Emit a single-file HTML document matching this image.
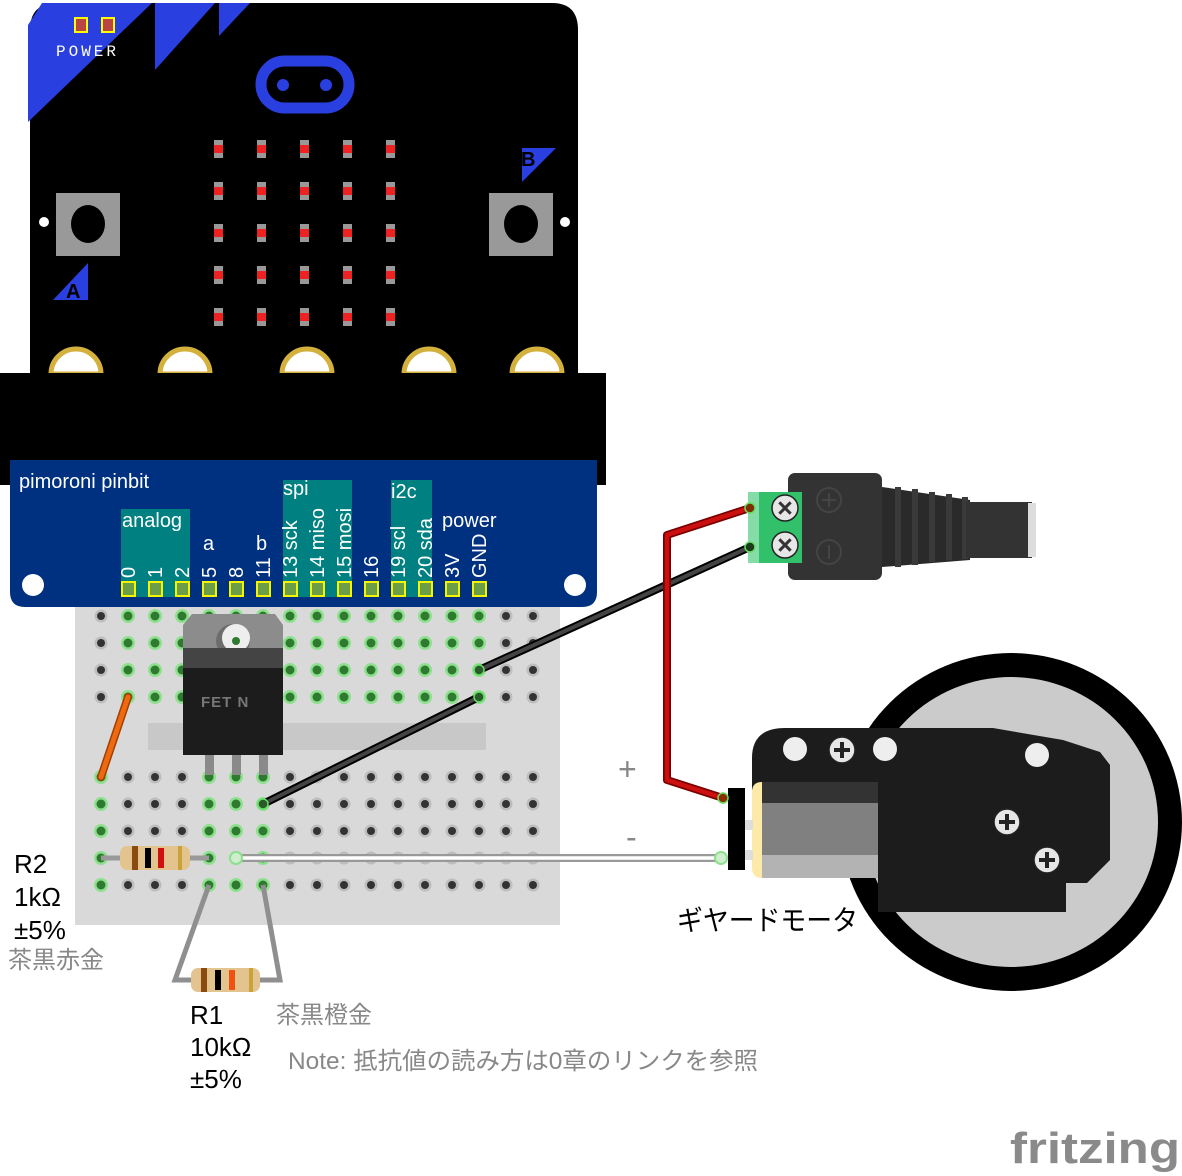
<!DOCTYPE html>
<html><head><meta charset="utf-8"><style>
html,body{margin:0;padding:0;background:#fff;}
svg{display:block;font-family:"Liberation Sans","Noto Sans CJK JP",sans-serif;}
</style></head><body>
<svg width="1182" height="1176" viewBox="0 0 1182 1176" xmlns="http://www.w3.org/2000/svg">
<defs>
 <g id="d"><circle r="6.5" fill="#bdbdbd"/><circle r="4" fill="#333"/></g>
 <g id="g"><circle r="7" fill="#8ee08e"/><circle r="4.5" fill="#2e7a2e"/></g>
 <g id="led"><rect x="-4" y="-9" width="9" height="18" fill="#999"/><rect x="-4" y="-4" width="9" height="8" fill="#e22"/></g>
 <g id="top">
  <use href="#d" x="101"/><use href="#g" x="128"/><use href="#g" x="155"/><use href="#g" x="182"/><use href="#g" x="209"/><use href="#g" x="236"/><use href="#g" x="263"/><use href="#g" x="290"/><use href="#g" x="317"/><use href="#g" x="344"/><use href="#g" x="371"/><use href="#g" x="398"/><use href="#g" x="425"/><use href="#g" x="452"/><use href="#g" x="479"/><use href="#d" x="506"/><use href="#d" x="533"/>
 </g>
 <g id="bot">
  <use href="#g" x="101"/><use href="#d" x="128"/><use href="#d" x="155"/><use href="#d" x="182"/><use href="#g" x="209"/><use href="#g" x="236"/><use href="#g" x="263"/><use href="#d" x="290"/><use href="#d" x="317"/><use href="#d" x="344"/><use href="#d" x="371"/><use href="#d" x="398"/><use href="#d" x="425"/><use href="#d" x="452"/><use href="#d" x="479"/><use href="#d" x="506"/><use href="#d" x="533"/>
 </g>
 <g id="lrow"><use href="#led" x="218"/><use href="#led" x="261"/><use href="#led" x="304"/><use href="#led" x="347"/><use href="#led" x="390"/></g>
 <g id="pad"><path d="M-25,0 A25,25 0 0 1 25,0 Z" fill="#fff" stroke="#d4b03c" stroke-width="5"/></g>
 <g id="plus"><circle r="13" fill="#e6e6e6" stroke="#222" stroke-width="1.5"/><path d="M-8,0H8M0,-8V8" stroke="#222" stroke-width="4"/></g>
</defs>

<!-- micro:bit -->
<path d="M30,375 V30 Q30,3 57,3 H552 Q578,3 578,30 V375 Z" fill="#000"/>
<polygon points="28,122 28,25 42,3 152,3" fill="#2a3fe0"/>
<polygon points="155,3 215,3 155,70" fill="#2a3fe0"/>
<polygon points="219,3 250,3 219,36" fill="#2a3fe0"/>
<rect x="75" y="18" width="12" height="14" fill="#b44" stroke="#ff0" stroke-width="2"/>
<rect x="102" y="18" width="12" height="14" fill="#b44" stroke="#ff0" stroke-width="2"/>
<text x="56" y="56" fill="#fff" font-size="16" font-family="Liberation Mono,monospace" textLength="60">POWER</text>
<rect x="261" y="61" width="88" height="47" rx="23.5" fill="none" stroke="#2a3fe0" stroke-width="11"/>
<circle cx="283" cy="85" r="6" fill="#2a3fe0"/><circle cx="326" cy="85" r="6" fill="#2a3fe0"/>
<use href="#lrow" y="149"/><use href="#lrow" y="191"/><use href="#lrow" y="233"/><use href="#lrow" y="275"/><use href="#lrow" y="317"/>
<rect x="56" y="193" width="64" height="63" fill="#999"/><ellipse cx="88" cy="224" rx="17" ry="19" fill="#000"/>
<rect x="489" y="193" width="64" height="63" fill="#999"/><ellipse cx="521" cy="224" rx="17" ry="19" fill="#000"/>
<circle cx="44" cy="222" r="5" fill="#fff"/><circle cx="565" cy="222" r="5" fill="#fff"/>
<polygon points="53,300 88,263 88,300" fill="#2a3fe0"/><text x="66" y="298" font-size="20" font-weight="bold" fill="#000">A</text>
<polygon points="522,148 556,148 522,182" fill="#2a3fe0"/><text x="521" y="166" font-size="20" font-weight="bold" fill="#000">B</text>
<use href="#pad" x="76" y="374"/><use href="#pad" x="185" y="374"/><use href="#pad" x="307" y="374"/><use href="#pad" x="429" y="374"/><use href="#pad" x="537" y="374"/>
<rect x="0" y="373" width="606" height="112" fill="#000"/>

<!-- breadboard -->
<rect x="75" y="600" width="485" height="325" fill="#d9d9d9"/>
<rect x="148" y="723" width="338" height="27" fill="#c8c8c8"/>
<use href="#top" y="616"/><use href="#top" y="643"/><use href="#top" y="670"/><use href="#top" y="697"/>
<use href="#bot" y="777"/><use href="#bot" y="804"/><use href="#bot" y="831"/><use href="#bot" y="858"/><use href="#bot" y="885"/>

<!-- pinbit -->
<path d="M10,460 H597 V592 Q597,607 582,607 H25 Q10,607 10,592 Z" fill="#003080"/>
<text x="19" y="488" fill="#fff" font-size="20">pimoroni pinbit</text>
<rect x="121" y="509" width="69" height="88" fill="#008080"/>
<rect x="283" y="480" width="69" height="117" fill="#008080"/>
<rect x="391" y="480" width="41" height="117" fill="#008080"/>
<text x="122" y="527" fill="#fff" font-size="20">analog</text>
<text x="203" y="550" fill="#fff" font-size="20">a</text>
<text x="256" y="550" fill="#fff" font-size="20">b</text>
<text x="283" y="495" fill="#fff" font-size="20">spi</text>
<text x="391" y="498" fill="#fff" font-size="20">i2c</text>
<text x="442" y="527" fill="#fff" font-size="20">power</text>
<g fill="#fff" font-size="20">
<text transform="translate(135,578) rotate(-90)">0</text>
<text transform="translate(162,578) rotate(-90)">1</text>
<text transform="translate(189,578) rotate(-90)">2</text>
<text transform="translate(216,578) rotate(-90)">5</text>
<text transform="translate(243,578) rotate(-90)">8</text>
<text transform="translate(270,578) rotate(-90)">11</text>
<text transform="translate(297,578) rotate(-90)">13 sck</text>
<text transform="translate(324,578) rotate(-90)">14 miso</text>
<text transform="translate(351,578) rotate(-90)">15 mosi</text>
<text transform="translate(378,578) rotate(-90)">16</text>
<text transform="translate(405,578) rotate(-90)">19 scl</text>
<text transform="translate(432,578) rotate(-90)">20 sda</text>
<text transform="translate(459,578) rotate(-90)">3V</text>
<text transform="translate(486,578) rotate(-90)">GND</text>
</g>
<g fill="#6b9e47" stroke="#f5f500" stroke-width="2">
<rect x="122" y="582" width="13" height="14"/><rect x="149" y="582" width="13" height="14"/><rect x="176" y="582" width="13" height="14"/><rect x="203" y="582" width="13" height="14"/><rect x="230" y="582" width="13" height="14"/><rect x="257" y="582" width="13" height="14"/><rect x="284" y="582" width="13" height="14"/><rect x="311" y="582" width="13" height="14"/><rect x="338" y="582" width="13" height="14"/><rect x="365" y="582" width="13" height="14"/><rect x="392" y="582" width="13" height="14"/><rect x="419" y="582" width="13" height="14"/><rect x="446" y="582" width="13" height="14"/><rect x="473" y="582" width="13" height="14"/>
</g>
<circle cx="33" cy="585" r="11" fill="#fff"/><circle cx="575" cy="585" r="11" fill="#fff"/>

<!-- FET -->
<g fill="#8a8a8a"><rect x="205" y="750" width="9" height="25"/><rect x="232" y="750" width="9" height="25"/><rect x="259" y="750" width="9" height="25"/></g>
<path d="M183,625 L192,614 H275 L283,625 V660 H183 Z" fill="#8c8c8c"/>
<circle cx="233" cy="641" r="17" fill="#6d6d6d"/><circle cx="236" cy="638" r="14" fill="#eee"/><circle cx="236" cy="641" r="4" fill="#2e7a2e"/>
<rect x="183" y="648" width="100" height="20" fill="#444"/>
<rect x="183" y="668" width="100" height="87" fill="#1c1c1c"/>
<text x="201" y="707" fill="#777" font-size="15" font-weight="bold" letter-spacing="1">FET N</text>

<!-- orange wire -->
<line x1="128" y1="697" x2="101" y2="777" stroke="#a33e00" stroke-width="8" stroke-linecap="round"/>
<line x1="128" y1="697" x2="101" y2="777" stroke="#ee6a10" stroke-width="5" stroke-linecap="round"/>

<!-- R2 -->
<line x1="101" y1="858" x2="209" y2="858" stroke="#999" stroke-width="5"/>
<rect x="120" y="846" width="70" height="24" rx="7" fill="#e3c48f"/>
<rect x="132" y="846" width="6" height="24" fill="#8a4a10"/><rect x="145" y="848" width="6" height="20" fill="#000"/><rect x="158" y="848" width="6" height="20" fill="#d01010"/><rect x="178" y="846" width="4" height="24" fill="#c9a23a"/>

<!-- R1 -->
<polyline points="209,885 175,980 195,980" fill="none" stroke="#8f8f8f" stroke-width="5"/>
<polyline points="263,885 280,980 258,980" fill="none" stroke="#8f8f8f" stroke-width="5"/>
<rect x="191" y="968" width="69" height="24" rx="7" fill="#e3c48f"/>
<rect x="201" y="968" width="6" height="24" fill="#8a4a10"/><rect x="215" y="970" width="6" height="20" fill="#000"/><rect x="229" y="970" width="6" height="20" fill="#f05010"/><rect x="249" y="968" width="4" height="24" fill="#c9a23a"/>

<!-- wires -->
<line x1="236" y1="858" x2="723" y2="858" stroke="#999" stroke-width="8"/>
<line x1="236" y1="858" x2="723" y2="858" stroke="#fff" stroke-width="3.5"/>
<circle cx="236" cy="858" r="6" fill="#cfeecf" stroke="#8ee08e" stroke-width="2"/>
<circle cx="721" cy="858" r="6" fill="#cfeecf" stroke="#8ee08e" stroke-width="2"/>
<g stroke-linecap="round">
<line x1="479" y1="670" x2="750" y2="547" stroke="#000" stroke-width="8"/>
<line x1="479" y1="670" x2="750" y2="547" stroke="#444" stroke-width="4"/>
<line x1="479" y1="697" x2="263" y2="804" stroke="#000" stroke-width="8"/>
<line x1="479" y1="697" x2="263" y2="804" stroke="#444" stroke-width="4"/>
<polyline points="750,508 667,535 667,780 723,798" fill="none" stroke="#7a0000" stroke-width="8" stroke-linejoin="round"/>
<polyline points="750,508 667,535 667,780 723,798" fill="none" stroke="#cc1010" stroke-width="4.5" stroke-linejoin="round"/>
</g>
<circle cx="479" cy="670" r="5" fill="#2a5a2a" stroke="#6d6" stroke-width="1.5"/>
<circle cx="479" cy="697" r="5" fill="#2a5a2a" stroke="#6d6" stroke-width="1.5"/>
<circle cx="263" cy="804" r="5" fill="#2a5a2a" stroke="#6d6" stroke-width="1.5"/>

<!-- DC jack -->
<rect x="788" y="473" width="94" height="107" rx="7" fill="#333"/>
<circle cx="829" cy="500" r="12" fill="none" stroke="#444" stroke-width="2"/><path d="M822,500h14M829,493v14" stroke="#444" stroke-width="2"/>
<circle cx="829" cy="552" r="12" fill="none" stroke="#444" stroke-width="2"/><path d="M829,545v14" stroke="#444" stroke-width="2"/>
<polygon points="882,487 970,500 970,560 882,567" fill="#2a2a2a"/>
<g fill="#3a3a3a"><rect x="895" y="487" width="6" height="80"/><rect x="912" y="489" width="6" height="76"/><rect x="929" y="492" width="6" height="70"/><rect x="946" y="494" width="6" height="66"/><rect x="962" y="497" width="6" height="62"/></g>
<rect x="966" y="502" width="66" height="56" fill="#333"/>
<rect x="1028" y="503" width="8" height="54" fill="#ddd"/>
<rect x="748" y="492" width="54" height="71" fill="#33c06a"/>
<rect x="748" y="492" width="11" height="71" fill="#86dca6"/>
<g transform="translate(785,545) rotate(45)"><circle r="13" fill="#e6e6e6" stroke="#222" stroke-width="1.5"/><path d="M-8,0H8M0,-8V8" stroke="#333" stroke-width="3"/></g>
<g transform="translate(785,508) rotate(45)"><circle r="13" fill="#e6e6e6" stroke="#222" stroke-width="1.5"/><path d="M-8,0H8M0,-8V8" stroke="#333" stroke-width="3"/></g>
<circle cx="750" cy="508" r="5" fill="#7a3000" stroke="#6d6" stroke-width="1.5"/>
<circle cx="750" cy="547" r="5" fill="#1a3a1a" stroke="#6d6" stroke-width="1.5"/>

<!-- motor -->
<ellipse cx="1011" cy="822" rx="171" ry="169" fill="#000"/>
<ellipse cx="1011" cy="822" rx="147" ry="145" fill="#cbcbcb"/>
<path d="M752,790 V758 Q752,728 785,728 H993 L1063,740 L1100,752 L1110,765 V860 L1087,883 H1066 V912 H878 V790 Z" fill="#1c1c1c"/>
<circle cx="795" cy="749" r="12" fill="#eee"/><circle cx="885" cy="749" r="12" fill="#eee"/><use href="#plus" x="842" y="750"/>
<circle cx="1037" cy="755" r="12" fill="#eee"/>
<use href="#plus" x="1007" y="822"/>
<use href="#plus" x="1047" y="860"/>
<rect x="762" y="782" width="116" height="96" fill="#808080"/>
<rect x="762" y="782" width="116" height="21" fill="#333"/>
<rect x="762" y="855" width="116" height="23" fill="#b3b3b3"/>
<path d="M762,782 V878 Q752,878 752,868 V792 Q752,782 762,782 Z" fill="#fde9a8"/>
<rect x="745" y="820" width="8" height="10" fill="#ddd"/><rect x="745" y="850" width="8" height="10" fill="#ddd"/>
<rect x="728" y="788" width="17" height="82" fill="#000"/>
<circle cx="723" cy="798" r="5" fill="#8a3000" stroke="#6d6" stroke-width="1.5"/>

<!-- labels -->
<text x="618" y="780" fill="#888" font-size="32">+</text>
<text x="626" y="848" fill="#888" font-size="32">-</text>
<text x="677" y="930" fill="#000" font-size="28" textLength="181" lengthAdjust="spacingAndGlyphs">ギヤードモータ</text>
<text x="14" y="873" fill="#000" font-size="26">R2</text>
<text x="14" y="906" fill="#000" font-size="26">1kΩ</text>
<text x="14" y="939" fill="#000" font-size="26">±5%</text>
<text x="8" y="968" fill="#888" font-size="24">茶黒赤金</text>
<text x="190" y="1024" fill="#000" font-size="26">R1</text>
<text x="190" y="1056" fill="#000" font-size="26">10kΩ</text>
<text x="190" y="1088" fill="#000" font-size="26">±5%</text>
<text x="276" y="1023" fill="#888" font-size="24">茶黒橙金</text>
<text x="288" y="1069" fill="#888" font-size="24" textLength="470" lengthAdjust="spacingAndGlyphs">Note: 抵抗値の読み方は0章のリンクを参照</text>
<text x="1010" y="1163" fill="#8a8a8a" font-size="44" font-weight="bold" textLength="170" lengthAdjust="spacingAndGlyphs">fritzing</text>
</svg>
</body></html>
